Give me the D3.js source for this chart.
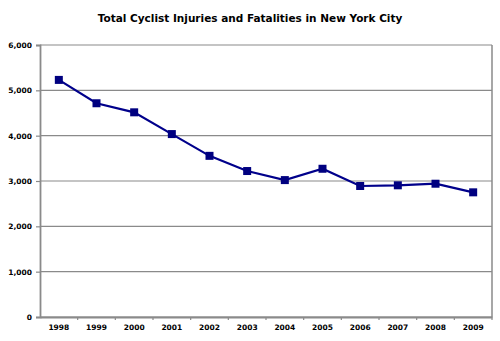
<!DOCTYPE html>
<html><head><meta charset="utf-8">
<script src="https://cdn.jsdelivr.net/npm/d3@7"></script>
<style>body{margin:0;background:#fff}svg{display:block}</style>
</head><body>
<svg id="chart" width="500" height="341"></svg>
<script>
const title = "Total Cyclist Injuries and Fatalities in New York City";
const years = ["1998","1999","2000","2001","2002","2003","2004","2005","2006","2007","2008","2009"];
const values = [5230, 4715, 4515, 4035, 3555, 3220, 3020, 3270, 2890, 2905, 2940, 2750];
const yTicks = [0, 1000, 2000, 3000, 4000, 5000, 6000];

const svg = d3.select("#chart");
const m = {l: 40, r: 8, t: 45, b: 24};
const W = 500, H = 341;
const x = d3.scaleBand().domain(years).range([m.l, W - m.r]);
const y = d3.scaleLinear().domain([0, 6000]).range([H - m.b, m.t]);
const font = "'DejaVu Sans', Verdana, sans-serif";
const gray = "#8a8a8a";

svg.append("text").attr("x", 250).attr("y", 22).attr("text-anchor", "middle")
  .attr("font-family", font).attr("font-weight", "bold").attr("font-size", 10.5)
  .attr("fill", "#000").text(title);

// gridlines
svg.append("g").selectAll("line").data(yTicks).join("line")
  .attr("x1", m.l).attr("x2", W - m.r).attr("y1", d => y(d)).attr("y2", d => y(d))
  .attr("stroke", gray).attr("stroke-width", 1.2);
// right border
svg.append("line").attr("x1", W - m.r).attr("x2", W - m.r).attr("y1", y(6000)).attr("y2", y(0))
  .attr("stroke", gray).attr("stroke-width", 1.5);

const yAxis = svg.append("g").attr("transform", `translate(${m.l},0)`)
  .call(d3.axisLeft(y).tickValues(yTicks).tickSize(4).tickPadding(4).tickFormat(d3.format(",")));
const xAxis = svg.append("g").attr("transform", `translate(0,${H - m.b})`)
  .call(d3.axisBottom(x).tickSize(0).tickPadding(8));
// x tick marks between categories
svg.append("g").selectAll("line").data(years.slice(1).concat(["end"])).join("line")
  .attr("x1", (d, i) => x(years[i]) + x.bandwidth()).attr("x2", (d, i) => x(years[i]) + x.bandwidth())
  .attr("y1", H - m.b).attr("y2", H - m.b + 3).attr("stroke", gray).attr("stroke-width", 1.2);

[yAxis, xAxis].forEach(a => {
  a.selectAll("path.domain").attr("stroke", gray).attr("stroke-width", 1.8);
  a.selectAll(".tick line").attr("stroke", gray).attr("stroke-width", 1.2);
  a.selectAll("text").attr("font-family", font).attr("font-weight", "bold")
    .attr("font-size", 7.5).attr("fill", "#000");
});

const line = d3.line().x((d, i) => x(years[i]) + x.bandwidth() / 2).y(d => y(d));
svg.append("path").datum(values).attr("d", line).attr("fill", "none")
  .attr("stroke", "#00008b").attr("stroke-width", 2.2);
const s = 8;
svg.append("g").selectAll("rect").data(values).join("rect")
  .attr("x", (d, i) => x(years[i]) + x.bandwidth() / 2 - s / 2)
  .attr("y", d => y(d) - s / 2).attr("width", s).attr("height", s).attr("fill", "#000080");
</script>
</body></html>
